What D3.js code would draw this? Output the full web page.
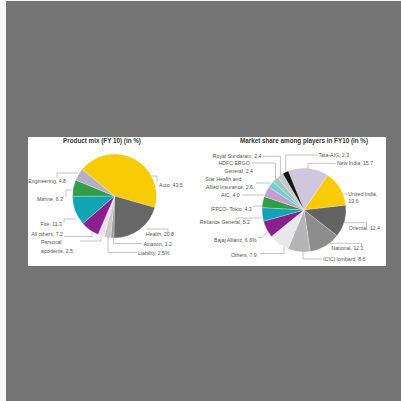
<!DOCTYPE html>
<html>
<head>
<meta charset="utf-8">
<script src="https://cdn.jsdelivr.net/npm/d3@7"></script>
<style>
  html, body { margin: 0; padding: 0; background: #f7f7f7; }
  svg { display: block; }
</style>
</head>
<body>
<script>
// product mix FY10, clockwise from Auto
const mixCategories = ['Auto', 'Health', 'Aviation', 'Liability', 'Personal accidents', 'All others', 'Fire', 'Marine', 'Engineering'];
const mixValues = [43.5, 20.8, 1.2, 2.5, 2.5, 7.2, 11.3, 6.3, 4.8];
const mixLabels = [['Auto, 43.5'], ['Health, 20.8'], ['Aviation, 1.2'], ['Liability, 2.5%'], ['Personal', 'accidents, 2.5'],
  ['All others, 7.2'], ['Fire, 11.3'], ['Marine, 6.3'], ['Engineering, 4.8']];

// market share FY10, clockwise from New India
const shareCategories = ['New India', 'United India', 'Oriental', 'National', 'ICICI lombard', 'Others', 'Bajaj Allianz',
  'Reliance General', 'IFFCO- Tokio', 'AIC', 'Star Health and Allied Insurance', 'HDFC ERGO General', 'Royal Sundaram', 'Tata-AIG'];
const shareValues = [15.7, 13.6, 12.4, 12.1, 8.6, 7.9, 6.6, 5.2, 4.3, 4.0, 2.6, 2.4, 2.4, 2.3];
const shareLabels = [['New India, 15.7'], ['United India,', '13.6'], ['Oriental, 12.4'], ['National, 12.1'], ['ICICI lombard, 8.6'],
  ['Others, 7.9'], ['Bajaj Allianz, 6.6%'], ['Reliance General, 5.2'], ['IFFCO- Tokio, 4.3'], ['AIC, 4.0'],
  ['Star Health and', 'Allied Insurance, 2.6'], ['HDFC ERGO', 'General, 2.4'], ['Royal Sundaram, 2.4'], ['Tata-AIG, 2.3']];

const titles = ['Product mix (FY 10) (in %)', 'Market share among players in FY10 (in %)'];

// styling / layout (kept apart from the data)
const mixColors = ['#f7cb05', '#676767', '#9c9c9c', '#c9c9c9', '#f3dcef', '#8b1f8d', '#12a4b4', '#2f9d4a', '#b5afc5'];
const shareColors = ['#cfc8dd', '#f7cb05', '#636363', '#8d8d8d', '#b4b4b4', '#e8e8ea', '#8b1f8d',
  '#12a4b4', '#2f9d4a', '#c59dcd', '#73cfd3', '#9ecbb9', '#c9c8d2', '#141414'];

// label position, anchor, and leader polyline per slice
const mixLayout = [
  {x: 159, y: 186.5, a: 'start', line: [[151, 176], [157, 176], [157, 182]]},
  {x: 174, y: 236, a: 'end', line: [[146, 229], [168, 229], [168, 232]]},
  {x: 143.5, y: 245.7, a: 'start', line: [[113.5, 237.5], [113.5, 243.5], [142, 243.5]]},
  {x: 138, y: 254.5, a: 'start', line: [[108, 237], [108, 252.5], [137, 252.5]]},
  {x: 41, y: 244.3, a: 'start', dy: 8.4, line: [[101, 236], [101, 241], [80, 241]]},
  {x: 63, y: 235.7, a: 'end', line: [[92, 231], [92, 236.5], [64, 236.5]]},
  {x: 62, y: 226, a: 'end', line: [[76, 219], [64, 219], [64, 223]]},
  {x: 63, y: 200.7, a: 'end', line: [[73, 190], [66, 190], [66, 197]]},
  {x: 66, y: 183.3, a: 'end', line: [[78, 173], [57, 173], [57, 178]]}
];
const shareLayout = [
  {x: 337, y: 165, a: 'start', line: [[308, 168.5], [308, 163.3], [335.5, 163.3]]},
  {x: 348.3, y: 196, a: 'start', dy: 7.3, line: [[343.2, 194], [347.5, 194]]},
  {x: 380, y: 230, a: 'end', line: [[344, 222.7], [366.5, 222.7], [366.5, 226]]},
  {x: 363.5, y: 250, a: 'end', line: [[329.6, 243.3], [361.5, 243.3], [361.5, 246.5]]},
  {x: 323.3, y: 260.7, a: 'start', line: [[303, 252], [303, 259], [322, 259]]},
  {x: 256.7, y: 257.3, a: 'end', line: [[284, 247], [284, 253.5], [260, 253.5]]},
  {x: 256.7, y: 241.7, a: 'end', line: [[268, 231], [262, 237.5], [258, 237.5]]},
  {x: 250, y: 224.3, a: 'end', line: [[262.5, 218], [236, 218], [236, 221]]},
  {x: 251.7, y: 211, a: 'end', line: [[262.3, 206], [253, 206]]},
  {x: 239.7, y: 197, a: 'end', line: [[264.8, 195], [242, 195]]},
  {x: 241.3, y: 181.3, a: 'end', dy: 7.7, ax: 253, line: [[270.5, 183], [256, 183]]},
  {x: 249.7, y: 165.3, a: 'end', dy: 7.7, ax: 253, line: [[275.5, 179], [275.5, 163], [252, 163]]},
  {x: 261.5, y: 158, a: 'end', line: [[280.4, 175.3], [280.4, 156.3], [263, 156.3]]},
  {x: 318.5, y: 156.5, a: 'start', line: [[285.7, 172.2], [285.7, 155], [318, 155]]}
];

const W = 401, H = 401;
const svg = d3.select('body').append('svg').attr('width', W).attr('height', H);

// grey photo backdrop and the white chart card
svg.append('rect').attr('x', 6).attr('y', 1).attr('width', W - 6).attr('height', H - 1).attr('fill', '#747474');
svg.append('rect').attr('x', 28).attr('y', 137).attr('width', 358).attr('height', 129).attr('fill', '#ffffff');

const font = '"Liberation Sans", Arial, sans-serif';

function drawPie(opts) {
  const g = svg.append('g').attr('transform', 'translate(' + opts.cx + ',' + opts.cy + ')');
  const a0 = opts.start * Math.PI / 180;
  const pie = d3.pie().sort(null).startAngle(a0).endAngle(a0 + 2 * Math.PI);
  const arc = d3.arc().innerRadius(0).outerRadius(opts.r);

  g.selectAll('path')
    .data(pie(opts.values))
    .enter()
    .append('path')
    .attr('d', arc)
    .attr('fill', (d, i) => opts.colors[i])
    .attr('stroke', '#ffffff')
    .attr('stroke-width', 0.25);

  // leader lines
  const line = d3.line();
  svg.append('g').selectAll('path')
    .data(opts.layout)
    .enter()
    .append('path')
    .attr('d', (d) => line(d.line))
    .attr('fill', 'none')
    .attr('stroke', '#8a8a8a')
    .attr('stroke-width', 0.5);

  // labels
  const labels = svg.append('g').selectAll('text')
    .data(opts.labels)
    .enter()
    .append('text')
    .attr('x', (d, i) => opts.layout[i].x)
    .attr('y', (d, i) => opts.layout[i].y)
    .attr('text-anchor', (d, i) => opts.layout[i].a)
    .attr('font-family', font)
    .attr('font-size', 5.2)
    .attr('fill', '#555');
  labels.each(function(lines, i) {
    const lay = opts.layout[i];
    d3.select(this).selectAll('tspan')
      .data(lines)
      .enter()
      .append('tspan')
      .attr('x', (t, j) => (j > 0 && lay.ax) ? lay.ax : lay.x)
      .attr('dy', (t, j) => j === 0 ? 0 : lay.dy)
      .text((t) => t);
  });

  svg.append('text')
    .attr('x', opts.tx)
    .attr('y', 142.5)
    .attr('text-anchor', 'middle')
    .attr('font-family', font)
    .attr('font-weight', 'bold')
    .attr('font-size', 6.3)
    .attr('fill', '#333')
    .text(opts.title);
}

drawPie({cx: 114.5, cy: 196, r: 42, start: -50.4, values: mixValues, colors: mixColors,
  labels: mixLabels, layout: mixLayout, title: titles[0], tx: 102});
drawPie({cx: 304, cy: 210, r: 42, start: -22, values: shareValues, colors: shareColors,
  labels: shareLabels, layout: shareLayout, title: titles[1], tx: 304});
</script>
</body>
</html>
